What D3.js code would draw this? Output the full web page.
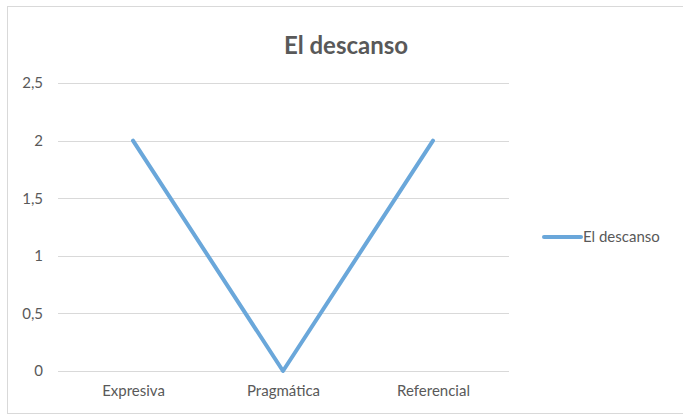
<!DOCTYPE html>
<html>
<head>
<meta charset="utf-8">
<script src="https://cdn.jsdelivr.net/npm/d3@7"></script>
<style>
  body { margin: 0; background: #fff; overflow: hidden; }
  svg { display: block; }
</style>
</head>
<body>
<svg width="683" height="415"></svg>
<script>
// datos del grafico
var categories = ["Expresiva", "Pragmática", "Referencial"];
var values = [2, 0, 2];
var yTicks = [0, 0.5, 1, 1.5, 2, 2.5];
var seriesName = "El descanso";

var svg = d3.select("svg"),
    width = +svg.attr("width"),
    height = +svg.attr("height");

var font = "Lato, 'Open Sans', sans-serif",
    textColor = "#595959",
    lineColor = "#6aa7da";

// marco
svg.append("rect")
    .attr("x", 7.5).attr("y", 6.5)
    .attr("width", 800).attr("height", 407)
    .attr("fill", "#fff")
    .attr("stroke", "#d9d9d9");

var x = d3.scalePoint()
    .domain(categories)
    .range([133, 433]);

var y = d3.scaleLinear()
    .domain([0, 2.5])
    .range([371, 83]);

var fmt = function(d) { return String(d).replace(".", ","); };

// lineas de la cuadricula
svg.append("g")
    .selectAll("line")
    .data(yTicks)
    .enter().append("line")
    .attr("x1", 58).attr("x2", 509)
    .attr("y1", function(d) { return Math.round(y(d)) + 0.5; })
    .attr("y2", function(d) { return Math.round(y(d)) + 0.5; })
    .attr("stroke", "#d9d9d9");

// eje y
var yAxis = svg.append("g")
    .attr("transform", "translate(43,0)")
    .call(d3.axisLeft(y).tickValues(yTicks).tickFormat(fmt).tickSize(0).tickPadding(0));
yAxis.select(".domain").remove();
yAxis.selectAll("text")
    .attr("font-family", font)
    .attr("font-size", 15)
    .attr("fill", textColor);

// eje x
var xAxis = svg.append("g")
    .attr("transform", "translate(0,371)")
    .call(d3.axisBottom(x).tickSize(0).tickPadding(14));
xAxis.select(".domain").remove();
xAxis.selectAll("text")
    .attr("font-family", font)
    .attr("font-size", 15)
    .attr("fill", textColor);

// serie
var line = d3.line()
    .x(function(d, i) { return x(categories[i]); })
    .y(function(d) { return y(d); });

svg.append("path")
    .datum(values)
    .attr("d", line)
    .attr("fill", "none")
    .attr("stroke", lineColor)
    .attr("stroke-width", 4)
    .attr("stroke-linejoin", "round")
    .attr("stroke-linecap", "round");

// titulo
svg.append("text")
    .attr("x", 346).attr("y", 54)
    .attr("text-anchor", "middle")
    .attr("font-family", font)
    .attr("font-size", 24)
    .attr("font-weight", "bold")
    .attr("fill", textColor)
    .text(seriesName);

// leyenda
var legend = svg.append("g");
legend.append("line")
    .attr("x1", 544).attr("x2", 581)
    .attr("y1", 237).attr("y2", 237)
    .attr("stroke", lineColor)
    .attr("stroke-width", 4)
    .attr("stroke-linecap", "round");
legend.append("text")
    .attr("x", 583).attr("y", 242)
    .attr("font-family", font)
    .attr("font-size", 15)
    .attr("fill", textColor)
    .text(seriesName);
</script>
</body>
</html>
